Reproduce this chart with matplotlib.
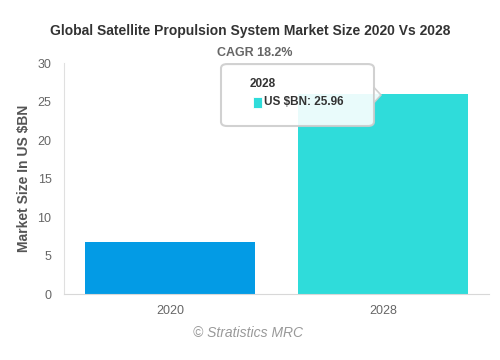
import matplotlib
matplotlib.use('Agg')
import matplotlib.pyplot as plt
from matplotlib.patches import FancyBboxPatch, Polygon, Rectangle

plt.rcParams['font.family'] = ['Liberation Sans', 'DejaVu Sans']

years = ['2020', '2028']
market_size = [6.75, 25.96]
bar_colors = ['#039be5', '#2fdcda']

fig = plt.figure(figsize=(5, 3.6), dpi=100)
ax = fig.add_axes([0.128, 0.183, 0.85, 0.642])

x = range(len(years))
ax.bar(x, market_size, width=0.8, color=bar_colors, zorder=2)
ax.set_xlim(-0.5, 1.5)
ax.set_ylim(0, 30)
ax.set_xticks(list(x))
ax.set_xticklabels(years)
ax.set_yticks(range(0, 31, 5))

for side in ['top', 'right']:
    ax.spines[side].set_visible(False)
ax.spines['left'].set_color('#e0e0e0')
ax.spines['bottom'].set_color('#d8d8d8')
ax.tick_params(length=0, labelsize=9, colors='#666666')
ax.tick_params(axis='x', pad=8)
ax.tick_params(axis='y', pad=9)

ax.set_ylabel('Market Size In US $BN', fontsize=10, fontweight='bold', color='#555555', labelpad=5)

fig.text(0.5, 0.915, 'Global Satellite Propulsion System Market Size 2020 Vs 2028',
         ha='center', va='center', fontsize=10, fontweight='bold', color='#333333')
fig.text(0.51, 0.852, 'CAGR 18.2%', ha='center', va='center', fontsize=9,
         fontweight='bold', color='#666666')
fig.text(0.496, 0.075, '\u00a9 Stratistics MRC', ha='center', va='center', fontsize=10,
         style='italic', color='#999999')

# tooltip for 2028
tip = FancyBboxPatch((0.442, 0.65), 0.306, 0.172, boxstyle='round,pad=0,rounding_size=0.012',
                     transform=fig.transFigure, facecolor='white', alpha=0.9,
                     edgecolor='#cccccc', linewidth=1.5, zorder=5)
fig.patches.append(tip)
arrow = Polygon([(0.748, 0.757), (0.762, 0.736), (0.748, 0.715)], closed=True,
                transform=fig.transFigure, facecolor='white', alpha=0.9,
                edgecolor='#cccccc', linewidth=1.2, zorder=5)
fig.patches.append(arrow)
fig.text(0.5, 0.767, years[1], ha='left', va='center', fontsize=8.5,
         fontweight='bold', color='#333333', zorder=6)
fig.patches.append(Rectangle((0.505, 0.701), 0.018, 0.029, transform=fig.transFigure,
                             facecolor=bar_colors[1], edgecolor='white', linewidth=0.6, zorder=6))
fig.text(0.528, 0.716, 'US $BN: %.2f' % market_size[1], ha='left', va='center', fontsize=8.5,
         fontweight='bold', color='#333333', zorder=6)

fig.savefig('out.png', dpi=100)
